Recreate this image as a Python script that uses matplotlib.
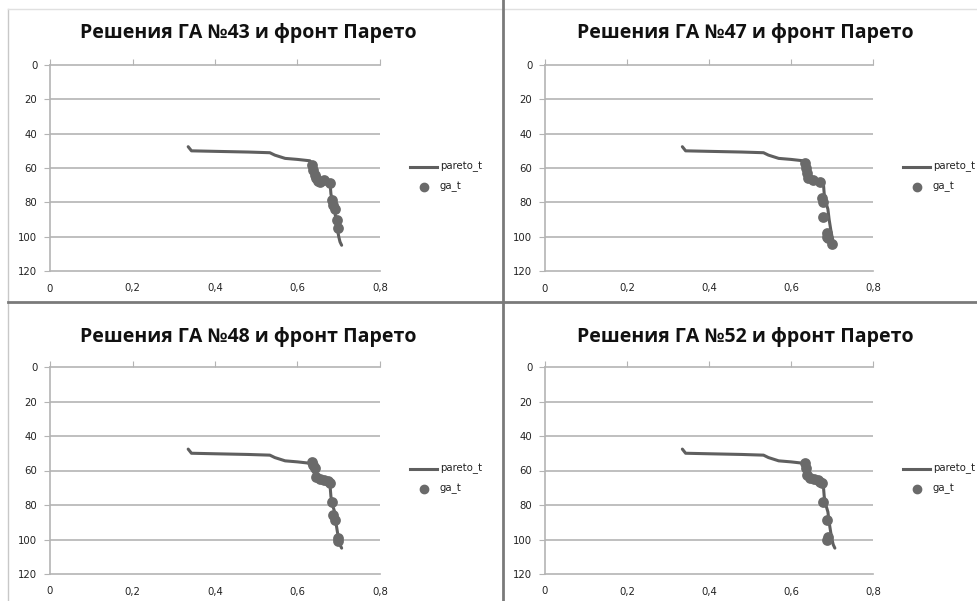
import matplotlib
matplotlib.use("Agg")
import matplotlib.pyplot as plt
from matplotlib.lines import Line2D

W, H = 978, 601

# ---- data ----
pareto_x = [0.335, 0.343, 0.40, 0.48, 0.533, 0.545, 0.570, 0.600, 0.630, 0.634,
            0.638, 0.642, 0.646, 0.660, 0.675, 0.679, 0.681, 0.685, 0.690, 0.693,
            0.697, 0.700, 0.703, 0.707]
pareto_y = [47.6, 50.0, 50.3, 50.7, 51.1, 52.5, 54.4, 55.0, 55.8, 57.0,
            59.3, 63.0, 66.0, 66.5, 67.5, 69.0, 75.0, 80.0, 84.0, 90.0,
            96.0, 100.0, 103.0, 105.0]

titles = ["Решения ГА №43 и фронт Парето", "Решения ГА №47 и фронт Парето",
          "Решения ГА №48 и фронт Парето", "Решения ГА №52 и фронт Парето"]

ga43_x = [0.636, 0.638, 0.642, 0.646, 0.650, 0.655, 0.665, 0.679, 0.683, 0.687, 0.691, 0.695, 0.699]
ga43_y = [58.0, 61.0, 64.0, 66.0, 67.5, 68.0, 67.0, 69.0, 78.7, 81.6, 83.6, 90.4, 95.2]
ga47_x = [0.634, 0.636, 0.638, 0.642, 0.654, 0.671, 0.675, 0.677, 0.679, 0.687, 0.689, 0.691, 0.699]
ga47_y = [57.3, 60.0, 63.1, 66.0, 67.0, 68.0, 77.7, 79.6, 88.4, 98.0, 100.0, 101.0, 104.0]
ga48_x = [0.636, 0.638, 0.642, 0.646, 0.655, 0.665, 0.675, 0.679, 0.683, 0.687, 0.691, 0.699, 0.697]
ga48_y = [55.0, 57.0, 58.7, 63.6, 65.1, 65.5, 66.1, 67.4, 78.0, 85.8, 88.7, 99.3, 101.0]
ga52_x = [0.634, 0.636, 0.638, 0.646, 0.655, 0.665, 0.671, 0.676, 0.679, 0.687, 0.691, 0.689]
ga52_y = [55.8, 58.5, 62.6, 64.5, 65.0, 65.5, 66.5, 67.5, 78.0, 88.7, 98.4, 100.0]
ga_x = [ga43_x, ga47_x, ga48_x, ga52_x]
ga_y = [ga43_y, ga47_y, ga48_y, ga52_y]

x_ticks = [0, 0.2, 0.4, 0.6, 0.8]
x_labels = ["0", "0,2", "0,4", "0,6", "0,8"]
y_ticks = [0, 20, 40, 60, 80, 100, 120]

# ---- layout (pixels) ----
axes_px = [(50, 65, 380, 271), (545, 65, 873, 271), (50, 367, 380, 574), (545, 367, 873, 574)]
title_px = [(248, 33), (745, 33), (248, 337), (745, 337)]

LINE_C = "#5f5f5f"
DOT_C = "#6a6a6a"
GRID_C = "#b4b4b4"

fig = plt.figure(figsize=(W / 100, H / 100), dpi=100)
fig.patch.set_facecolor("white")

def fx(px):
    return px / W

def fy(py):
    return 1 - py / H

for i in range(4):
    x0, y0, x1, y1 = axes_px[i]
    ax = fig.add_axes([fx(x0), fy(y1), fx(x1) - fx(x0), fy(y0) - fy(y1)])
    ax.plot(pareto_x, pareto_y, color=LINE_C, lw=2.2, solid_capstyle="round",
            solid_joinstyle="round", zorder=3)
    ax.scatter(ga_x[i], ga_y[i], s=60, color=DOT_C, zorder=4, linewidths=0)
    ax.set_xlim(0, 0.8)
    ax.set_ylim(120, 0)
    ax.set_xticks(x_ticks)
    ax.set_xticklabels(x_labels)
    ax.set_yticks(y_ticks)
    for v in y_ticks[1:-1]:
        ax.axhline(v, color=GRID_C, lw=1.2, zorder=1)
    ax.spines["right"].set_visible(False)
    for s in ["top", "bottom", "left"]:
        ax.spines[s].set_color(GRID_C)
        ax.spines[s].set_linewidth(1.2)
    ax.tick_params(axis="x", top=True, bottom=False, labeltop=False, labelbottom=True,
                   direction="out", length=4, color=GRID_C, labelsize=7.3, pad=5,
                   labelcolor="#222222")
    ax.tick_params(axis="y", left=True, direction="out", length=4, color=GRID_C,
                   labelsize=7.3, pad=5, labelcolor="#222222")
    for lab in ax.get_xticklabels() + ax.get_yticklabels():
        lab.set_family("DejaVu Sans")
    tx, ty = title_px[i]
    fig.text(fx(tx), fy(ty), titles[i], ha="center", va="center",
             fontsize=14, fontweight="bold", family="Open Sans", color="#111111")
    # legend
    lx = x1 + 30
    ly = y0 + 102
    fig.add_artist(Line2D([fx(lx), fx(lx + 27)], [fy(ly), fy(ly)], color=LINE_C, lw=2.2))
    fig.text(fx(lx + 30), fy(ly), "pareto_t", ha="left", va="center", fontsize=7.3,
             family="DejaVu Sans", color="#222222")
    fig.add_artist(Line2D([fx(lx + 14)], [fy(ly + 20)], marker="o", markersize=6,
                          color=DOT_C, lw=0))
    fig.text(fx(lx + 30), fy(ly + 20), "ga_t", ha="left", va="center", fontsize=7.3,
             family="DejaVu Sans", color="#222222")

# panel frames / dividers
fig.add_artist(Line2D([fx(8), fx(8)], [fy(9), fy(601)], color="#c8c8c8", lw=1))
fig.add_artist(Line2D([fx(8), fx(978)], [fy(9), fy(9)], color="#e0e0e0", lw=1))
fig.add_artist(Line2D([fx(503), fx(503)], [fy(0), fy(601)], color="#7a7a7a", lw=2))
fig.add_artist(Line2D([fx(8), fx(978)], [fy(302), fy(302)], color="#7a7a7a", lw=2))

fig.savefig("out.png", dpi=100)
